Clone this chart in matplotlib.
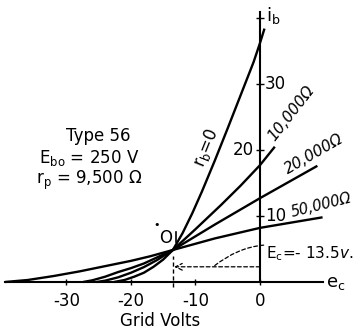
import matplotlib
matplotlib.use("Agg")
import matplotlib.pyplot as plt

plt.rcParams['font.family'] = ['Liberation Sans Narrow', 'DejaVu Sans']
plt.rcParams['font.size'] = 12

# grid volts (e_c) and plate current (i_b, mA)
r0_ec = [-22.6, -21, -19.5, -18, -16.5, -15, -13.5, -12, -10.5, -9, -7, -5, -3, -1, 0, 0.7]
r0_ib = [0, 0.3, 0.8, 1.4, 2.3, 3.4, 4.85, 7.4, 10.4, 13.7, 18.4, 23.3, 28.3, 33.3, 36.2, 38.4]

r10k_ec = [-25.3, -24, -22, -20, -18, -16, -13.5, -10, -6, -3, 0, 2.3]
r10k_ib = [0, 0.2, 0.7, 1.4, 2.25, 3.3, 4.85, 8.0, 11.7, 14.6, 17.7, 20.5]

r20k_ec = [-27.4, -26, -24, -22, -20, -18, -16, -13.5, -7, 0, 8.9]
r20k_ib = [0, 0.25, 0.8, 1.5, 2.1, 2.8, 3.7, 4.85, 8.7, 12.7, 17.6]

r50k_ec = [-39.5, -36, -32, -28, -24, -20, -17, -13.5, -7, 0, 9.7]
r50k_ib = [0, 0.3, 0.9, 1.6, 2.4, 3.2, 3.9, 4.85, 6.6, 8.2, 9.8]

x_ticks = [-30, -20, -10, 0]
x_labels = ['-30', '-20', '-10', '0']
y_ticks = [10, 20, 30, 40]
y_labels = ['10', '20', '30']

ec_q = -13.5
ib_q = 4.85

fig = plt.figure(figsize=(3.59, 3.32), dpi=100)
ax = fig.add_axes([0, 0, 1, 1])
ax.set_xlim(-40.3, 15.35)
ax.set_ylim(-7.58, 42.73)
ax.patch.set_alpha(0)

for ec, ib in [(r0_ec, r0_ib), (r10k_ec, r10k_ib), (r20k_ec, r20k_ib), (r50k_ec, r50k_ib)]:
    ax.plot(ec, ib, color='black', lw=1.7, solid_capstyle='butt')

# axes through the origin
for s in ['top', 'right']:
    ax.spines[s].set_visible(False)
ax.spines['left'].set_position(('data', 0))
ax.spines['bottom'].set_position(('data', 0))
ax.spines['left'].set_bounds(0, 40.9)
ax.spines['bottom'].set_bounds(-39.6, 9.8)
ax.spines['left'].set_linewidth(1.5)
ax.spines['bottom'].set_linewidth(1.5)
ax.set_xticks(x_ticks)
ax.set_xticklabels(x_labels)
ax.set_yticks(y_ticks)
ax.set_yticklabels([])
ax.tick_params(axis='x', direction='inout', length=5, width=1, pad=5, labelsize=12)
ax.tick_params(axis='y', direction='inout', length=6, width=1)

# y tick labels alternate sides like the original
ax.text(0.8, y_ticks[0], y_labels[0], ha='left', va='center', fontsize=12)
ax.text(-1.0, y_ticks[1], y_labels[1], ha='right', va='center', fontsize=12)
ax.text(0.8, y_ticks[2], y_labels[2], ha='left', va='center', fontsize=12)

ax.text(1.0, 40.4, r'i$_\mathregular{b}$', ha='left', va='center', fontsize=13)
ax.text(10.3, -0.1, r'e$_\mathregular{c}$', ha='left', va='center', fontsize=13)
ax.text(-15.5, -5.9, 'Grid Volts', ha='center', va='center', fontsize=12)

ax.text(-25.1, 22.1, 'Type 56', ha='center', va='center', fontsize=12)
ax.text(-26.4, 18.8, r'E$_\mathregular{bo}$ = 250 V', ha='center', va='center', fontsize=12)
ax.text(-26.4, 15.45, r'r$_\mathregular{p}$ = 9,500 Ω', ha='center', va='center', fontsize=12)

# curve labels
ax.text(-8.3, 20.3, r'r$_\mathregular{b}$=0', rotation=68, ha='center', va='center', fontsize=12)
ax.text(4.8, 25.5, '10,000Ω', rotation=52, ha='center', va='center', fontsize=11, style='italic')
ax.text(8.4, 19.4, '20,000Ω', rotation=30, ha='center', va='center', fontsize=11, style='italic')
ax.text(9.5, 11.7, '50,000Ω', rotation=14, ha='center', va='center', fontsize=10.5, style='italic')

# operating point
ax.text(-16.0, 8.7, '•', ha='center', va='center', fontsize=8)
ax.text(-14.6, 6.7, 'O', ha='center', va='center', fontsize=12)
ax.plot([ec_q + 0.5, ec_q + 0.5], [6.1, 7.6], color='black', lw=1.2)
ax.plot([ec_q, ec_q], [-0.8, 3.9], color='black', lw=1.0, ls=(0, (3, 2)))

# grid bias marker
ax.annotate('', xy=(ec_q + 0.2, 2.3), xytext=(0, 2.3),
            arrowprops=dict(arrowstyle='->', color='black', lw=0.9, ls=(0, (3, 2)),
                            shrinkA=0, shrinkB=0))
ax.annotate(r'E$_\mathregular{c}$=- $\it{13.5v.}$', xy=(-7.2, 2.35), xytext=(1.0, 4.3),
            ha='left', va='center', fontsize=11,
            arrowprops=dict(arrowstyle='-', color='black', lw=0.9, ls=(0, (3, 2)),
                            connectionstyle='arc3,rad=0.3', shrinkA=0, shrinkB=0))

fig.savefig('out.png', dpi=100)
